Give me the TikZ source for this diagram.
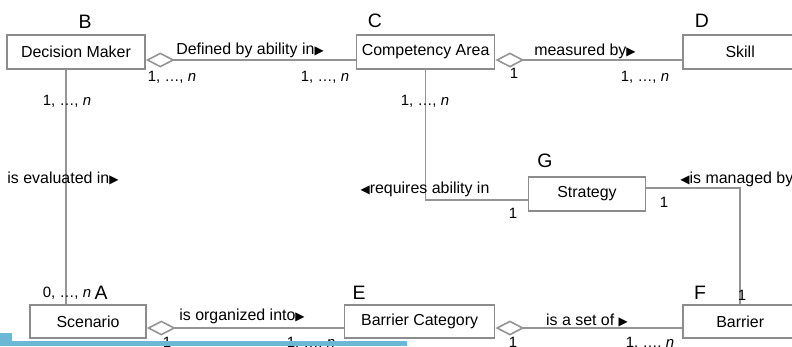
\documentclass[tikz,border=0pt]{standalone}
\usepackage{fontspec}
\setmainfont{Liberation Sans}
\newfontfamily\symfont{DejaVu Sans}
\usetikzlibrary{positioning, arrows.meta}

\definecolor{barblue}{RGB}{107,183,214}

\newcommand{\rtri}{{\symfont\fontsize{12}{12}\selectfont ▶}}
\newcommand{\ltri}{{\symfont\fontsize{12}{12}\selectfont ◀}}

\begin{document}
\begin{tikzpicture}[x=1bp, y=-1bp, node distance=187bp, thick]

    % Define styles
    \tikzstyle{cls} = [draw=black!45, line width=1.6bp, fill=white, rectangle, minimum height=34bp, inner sep=0pt, font=\fontsize{16}{18}\selectfont]
    \tikzstyle{tag} = [inner sep=0pt, font=\fontsize{19.5}{21}\selectfont]
    \tikzstyle{lbl} = [inner sep=0pt, font=\fontsize{16}{18}\selectfont]
    \tikzstyle{mult} = [inner sep=0pt, font=\fontsize{15}{17}\selectfont]
    \tikzstyle{line} = [draw=black!42, line width=1.6bp]
    \tikzstyle{agg} = [line, {Diamond[open, length=29bp, width=15bp]}-]

    \useasboundingbox (0,0) rectangle (792,346);

    % TOP ROW
    \node (dec_maker) [cls, minimum width=138bp] at (76,52) {Decision Maker};
    \node (comp_area) [cls, minimum width=138bp, right=210bp of dec_maker] {Competency Area};
    \node (skill) [cls, minimum width=114bp, right=of comp_area] {Skill};

    % MIDDLE
    \node (strategy) [cls, minimum width=117bp] at (587,194) {Strategy};

    % BOTTOM ROW
    \node (scenario) [cls, minimum width=116bp, minimum height=33bp] at (88,321.5) {Scenario};
    \node (bar_cat) [cls, minimum width=150bp, minimum height=33bp, right=197bp of scenario] {Barrier Category};
    \node (barrier) [cls, minimum width=114bp, minimum height=33bp, right=of bar_cat] {Barrier};

    % Letters
    \node (tag_b) [tag] at (85,22) {B};
    \node (tag_c) [tag] at (375,21) {C};
    \node (tag_d) [tag] at (702,21) {D};
    \node (tag_g) [tag] at (545,161) {G};
    \node (tag_a) [tag] at (101,293) {A};
    \node (tag_e) [tag] at (359,293) {E};
    \node (tag_f) [tag] at (700,293) {F};

    % CONNECTIONS
    \draw[agg] ([yshift=-8bp]dec_maker.east) -- ([yshift=-8bp]comp_area.west);
    \draw[agg] ([yshift=-8bp]comp_area.east) -- ([yshift=-8bp]skill.west);
    \draw[line] ([xshift=-10bp]dec_maker.south) -- ([xshift=-10bp]dec_maker.south |- scenario.north);
    \draw[line] (comp_area.south) |- ([yshift=-6bp]strategy.west);
    \draw[line] ([yshift=6bp]strategy.east) -| (barrier.north);
    \draw[agg] ([yshift=-6.5bp]scenario.east) -- ([yshift=-6.5bp]bar_cat.west);
    \draw[agg] ([yshift=-6.5bp]bar_cat.east) -- ([yshift=-6.5bp]barrier.west);

    % Association names
    \node (lbl_defined) [lbl] at (250,50) {Defined by ability in\rtri};
    \node (lbl_measured) [lbl] at (585,51) {measured by\rtri};
    \node (lbl_evaluated) [lbl] at (63,178) {is evaluated in\rtri};
    \node (lbl_requires) [lbl] at (425,189) {\ltri requires ability in};
    \node (lbl_managed) [lbl, anchor=west] at (680,179) {\ltri is managed by};
    \node (lbl_organized) [lbl] at (242,316) {is organized into\rtri};
    \node (lbl_setof) [lbl] at (587,320) {is a set of \rtri};

    % Multiplicities
    \node (m_dm_right) [mult] at (172,77) {1, …, \textit{n}};
    \node (m_ca_left) [mult] at (325,77) {1, …, \textit{n}};
    \node (m_ca_right) [mult] at (514,73) {1};
    \node (m_sk_left) [mult] at (645,77) {1, …, \textit{n}};
    \node (m_dm_below) [mult] at (67,101) {1, …, \textit{n}};
    \node (m_ca_below) [mult] at (425,101) {1, …, \textit{n}};
    \node (m_st_left) [mult] at (513,213) {1};
    \node (m_st_right) [mult] at (664,202) {1};
    \node (m_ba_top) [mult] at (742,295) {1};
    \node (m_sc_top) [mult] at (67,293) {0, …, \textit{n}};
    \node (m_sc_right) [mult, anchor=north] at (167,337) {1};
    \node (m_bc_left) [mult, anchor=north] at (311,337) {1, …, \textit{n}};
    \node (m_bc_right) [mult, anchor=north] at (513,337) {1};
    \node (m_ba_left) [mult, anchor=north] at (650,337) {1, …, \textit{n}};

    % Blue strip
    \fill[barblue] (0,333) rectangle (12,346);
    \fill[barblue] (0,341) rectangle (407,346);

\end{tikzpicture}
\end{document}
